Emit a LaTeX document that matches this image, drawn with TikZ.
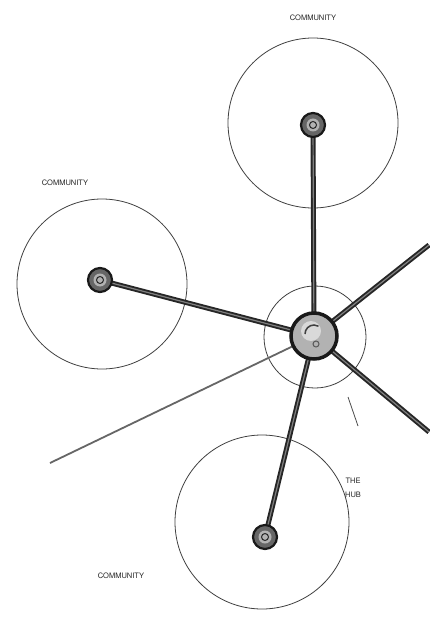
\documentclass[tikz,border=0pt]{standalone}
\usepackage{fontspec}
\setmainfont{TeX Gyre Heros}
\begin{document}
\begin{tikzpicture}[x=1pt,y=-1pt,
  ring/.style={draw=black!75,line width=0.8pt},
  spoke/.style={draw=black!85,line width=5pt,line cap=round},
  spokein/.style={draw=black!50,line width=1.2pt,line cap=round},
  lbl/.style={font=\fontsize{7.5}{9}\selectfont, text=black!85},
  ball/.style={circle,draw=black!90,line width=2.2pt,fill=black!60,minimum size=24pt,inner sep=0pt},
  hubball/.style={circle,draw=black!90,line width=3.5pt,fill=black!30,minimum size=46pt,inner sep=0pt}]
\useasboundingbox (0,0) rectangle (429,628);
\fill[white] (0,0) rectangle (429,628);
% community circles
\draw[ring] (313,123) circle (85);
\draw[ring] (102,284) circle (85);
\draw[ring] (262,522) circle (87);
\draw[ring] (315,337) circle (51);
% coordinates
\coordinate (hubc) at (314,336);
\coordinate (ur) at (429,245);
\coordinate (dr) at (429,432);
\coordinate (dl) at (50,463);
\coordinate (p1) at (348,397);
\coordinate (p2) at (358,426);
% thin spoke
\draw[draw=black!60,line width=1.8pt] (hubc) -- (dl);
% spokes
\foreach \t in {(313,125),(100,280),(265,537)} {
  \draw[spoke] (hubc) -- \t;
  \draw[spokein] (hubc) -- \t;
}
\draw[spoke,line cap=butt] (hubc) -- (ur);
\draw[spokein,line cap=butt] (hubc) -- (ur);
\draw[spoke,line cap=butt] (hubc) -- (dr);
\draw[spokein,line cap=butt] (hubc) -- (dr);
% nodes
\node[ball] (ntop) at (313,125) {};
\node[ball] (nleft) at (100,280) {};
\node[ball] (nbot) at (265,537) {};
\foreach \n in {ntop,nleft,nbot} {
  \fill[black!30] (\n) circle (6.5);
  \draw[black!85,line width=1pt] (\n) circle (3.5);
}
\node[hubball] (hub) at (hubc) {};
\fill[white!85!black] ([shift={(-3,-5)}]hubc) circle (10);
\draw[black!75,line width=1.5pt] ([shift={(-9,-2)}]hubc) arc (180:300:9);
\draw[black!65,line width=1pt] ([shift={(2,8)}]hubc) circle (3);
% pointer
\draw[black!70,line width=0.8pt] (p1) -- (p2);
% labels
\node[lbl] (l1) at (313,18) {COMMUNITY};
\node[lbl] (l2) at (65,183) {COMMUNITY};
\node[lbl] (l3) at (121,576) {COMMUNITY};
\node[lbl,align=center] (hubl) at (353,488) {THE\\[5pt]HUB};
\end{tikzpicture}
\end{document}
